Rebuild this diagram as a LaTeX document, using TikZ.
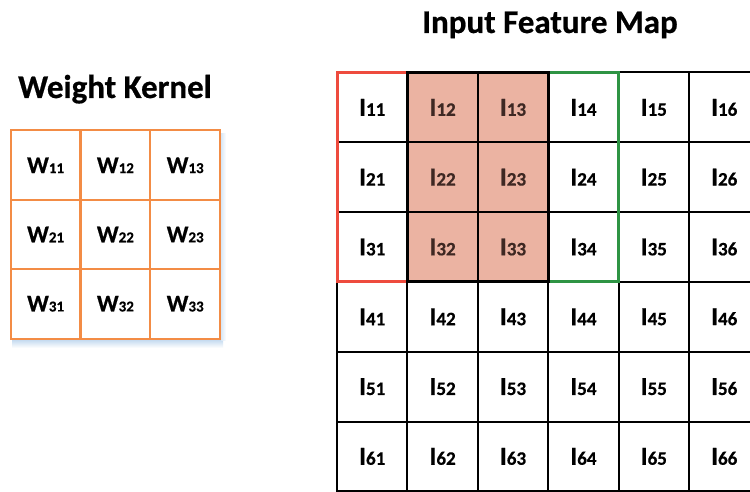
\documentclass[tikz,border=0pt]{standalone}
\usepackage{fontspec}
\setmainfont{Carlito}[BoldFeatures={FakeBold=0.6}]
\definecolor{kernline}{HTML}{F38C45}
\definecolor{winred}{HTML}{EE4B3E}
\definecolor{wingreen}{HTML}{2E9444}
\definecolor{overlap}{HTML}{EBB3A2}
\definecolor{overlaptext}{HTML}{3E2823}
\definecolor{shadowblue}{HTML}{BFD7EE}
\newcommand\inlabel[1]{\bfseries{\fontsize{26}{26}\selectfont I}{\fontsize{19}{19}\selectfont #1}}
\newcommand\wlabel[1]{\bfseries{\fontsize{24}{24}\selectfont W}{\fontsize{15}{15}\selectfont #1}}
\tikzset{
  cell/.style={draw, inner sep=0pt, outer sep=0pt, minimum width=70.4pt,
    minimum height=69.8pt, anchor=center, line width=2pt},
  incell/.style={cell, draw=black, text=black},
  hicell/.style={cell, draw=black, fill=overlap, text=overlaptext},
  kcell/.style={cell, draw=kernline, minimum width=69.8pt, fill=white, line width=2.2pt},
  title/.style={font=\bfseries\fontsize{33}{33}\selectfont, inner sep=0pt, anchor=base},
  frame/.style={line width=3pt}
}
\begin{document}
\begin{tikzpicture}[x=1pt,y=-1pt]
\useasboundingbox[fill=white] (0,0) rectangle (750,492);

% titles
\node[title] (ktitle) at (115,98) {Weight Kernel};
\node[title] (ititle) at (550,33) {Input Feature Map};

% soft shadow under the kernel
\shade[top color=shadowblue, bottom color=white] (12,339) rectangle (223,348);
\shade[left color=shadowblue!60, right color=white] (221,134) rectangle (226,340);

% weight kernel
\foreach \r in {1,2,3}{
  \foreach \c in {1,2,3}{
    \node[kcell] (w\r\c) at ({10.7+69.8*(\c-0.5)},{130.7+69.2*(\r-0.5)}) {\wlabel{\r\c}};
  }
}

% input feature map
\foreach \r in {1,...,6}{
  \foreach \c in {1,...,6}{
    \pgfmathtruncatemacro{\hi}{(\r<4)*(\c>1)*(\c<4)}
    \ifnum\hi=1
      \node[hicell] (in\r\c) at ({337+70.4*(\c-0.5)},{72.5+69.8*(\r-0.5)}) {\inlabel{\r\c}};
    \else
      \node[incell] (in\r\c) at ({337+70.4*(\c-0.5)},{72.5+69.8*(\r-0.5)}) {\inlabel{\r\c}};
    \fi
  }
}

% sliding windows: first (red), second (green), overlap (black)
\draw[frame, winred] (in11.north west) rectangle (in33.south east);
\draw[frame, wingreen] (in12.north west) rectangle (in34.south east);
\draw[frame, black] (in12.north west) rectangle (in23.east |- in33.south);
\end{tikzpicture}
\end{document}
